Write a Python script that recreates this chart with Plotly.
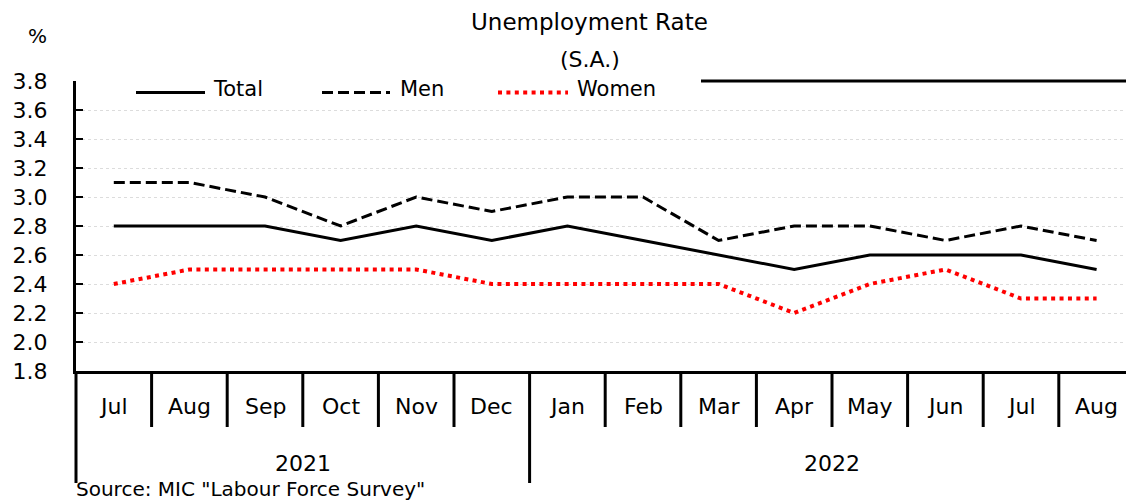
import plotly.graph_objects as go

months = ["Jul", "Aug", "Sep", "Oct", "Nov", "Dec", "Jan", "Feb", "Mar", "Apr", "May", "Jun", "Jul", "Aug"]
years = ["2021", "2022"]
year_counts = [6, 8]
total = [2.8, 2.8, 2.8, 2.7, 2.8, 2.7, 2.8, 2.7, 2.6, 2.5, 2.6, 2.6, 2.6, 2.5]
men = [3.1, 3.1, 3.0, 2.8, 3.0, 2.9, 3.0, 3.0, 2.7, 2.8, 2.8, 2.7, 2.8, 2.7]
women = [2.4, 2.5, 2.5, 2.5, 2.5, 2.4, 2.4, 2.4, 2.4, 2.2, 2.4, 2.5, 2.3, 2.3]
y_ticks = [1.8, 2.0, 2.2, 2.4, 2.6, 2.8, 3.0, 3.2, 3.4, 3.6, 3.8]

W, H = 1126, 501
ML, MR, MT, MB = 76, 0, 81, 130
PW = W - ML - MR
PH = H - MT - MB
FONT = "DejaVu Sans"
CAT_W = 75.6

def py(p):
    return (H - MB - p) / PH

def px(p):
    return (p - ML) / PW

x = list(range(len(months)))
xmax = -0.5 + PW / CAT_W

fig = go.Figure()
fig.add_trace(go.Scatter(x=x, y=total, mode="lines", name="Total",
                         line=dict(color="black", width=3), showlegend=False))
fig.add_trace(go.Scatter(x=x, y=men, mode="lines", name="Men",
                         line=dict(color="black", width=3, dash="11px,5px"), showlegend=False))
fig.add_trace(go.Scatter(x=x, y=women, mode="lines", name="Women",
                         line=dict(color="red", width=4, dash="4px,4.4px"), showlegend=False))

shapes = []
annotations = []

# month separators
boundaries = [sum(year_counts[:k]) for k in range(1, len(year_counts))]
for i in range(1, len(months)):
    long = i in boundaries
    shapes.append(dict(type="line", xref="x", yref="paper", x0=i - 0.5, x1=i - 0.5,
                       y0=0, y1=py(483 if long else 427), line=dict(color="black", width=3)))
shapes.append(dict(type="line", xref="paper", yref="paper", x0=0, x1=0,
                   y0=0, y1=py(483), line=dict(color="black", width=3)))
# top border visible part
shapes.append(dict(type="line", xref="paper", yref="paper", x0=px(701), x1=1,
                   y0=1, y1=1, line=dict(color="black", width=3)))

for i, m in enumerate(months):
    annotations.append(dict(x=i, y=py(406), xref="x", yref="paper", text=m, showarrow=False,
                            font=dict(family=FONT, size=22, color="black"),
                            xanchor="center", yanchor="middle"))
start = 0
for yr, c in zip(years, year_counts):
    mid = start - 0.5 + c / 2
    annotations.append(dict(x=mid, y=py(463), xref="x", yref="paper", text=yr, showarrow=False,
                            font=dict(family=FONT, size=22, color="black"),
                            xanchor="center", yanchor="middle"))
    start += c

# legend
leg = [("Total", 136, 205, 211, dict(color="black", width=3)),
       ("Men", 322, 390, 398, dict(color="black", width=3, dash="11px,5px")),
       ("Women", 498, 568, 575, dict(color="red", width=4, dash="4px,4.4px"))]
for name, a, b, t, ln in leg:
    shapes.append(dict(type="line", xref="paper", yref="paper", x0=px(a), x1=px(b),
                       y0=py(92.5), y1=py(92.5), line=ln))
    annotations.append(dict(x=px(t), y=py(89), xref="paper", yref="paper", text=name,
                            showarrow=False, xanchor="left", yanchor="middle",
                            font=dict(family=FONT, size=21, color="black")))

annotations.append(dict(x=px(589.5), y=py(22), xref="paper", yref="paper", text="Unemployment Rate",
                        showarrow=False, xanchor="center", yanchor="middle",
                        font=dict(family=FONT, size=23, color="black")))
annotations.append(dict(x=px(590), y=py(59), xref="paper", yref="paper", text="(S.A.)",
                        showarrow=False, xanchor="center", yanchor="middle",
                        font=dict(family=FONT, size=22, color="black")))
annotations.append(dict(x=px(37.5), y=py(36.5), xref="paper", yref="paper", text="%",
                        showarrow=False, xanchor="center", yanchor="middle",
                        font=dict(family=FONT, size=20, color="black")))
annotations.append(dict(x=px(74), y=py(489), xref="paper", yref="paper",
                        text='Source: MIC "Labour Force Survey"',
                        showarrow=False, xanchor="left", yanchor="middle",
                        font=dict(family=FONT, size=20, color="black")))

fig.update_layout(
    width=W, height=H,
    margin=dict(l=ML, r=MR, t=MT, b=MB, pad=0),
    paper_bgcolor="white", plot_bgcolor="white",
    shapes=shapes, annotations=annotations,
    showlegend=False,
    xaxis=dict(range=[-0.5, xmax], showticklabels=False, showgrid=False, zeroline=False,
               showline=True, linecolor="black", linewidth=3, ticks=""),
    yaxis=dict(range=[1.8, 3.8], tickvals=y_ticks, ticktext=[f"{v:.1f}" for v in y_ticks],
               showgrid=True, gridcolor="#dcdcdc", griddash="dot", gridwidth=1,
               zeroline=False, showline=True, linecolor="black", linewidth=3,
               ticks="inside", ticklen=7, tickwidth=2, tickcolor="black",
               ticklabelstandoff=21,
               tickfont=dict(family=FONT, size=22, color="black")),
)

fig.write_html("out.html", config={"displayModeBar": False},
               post_script="document.body.style.margin='0';document.body.style.overflow='hidden';")
